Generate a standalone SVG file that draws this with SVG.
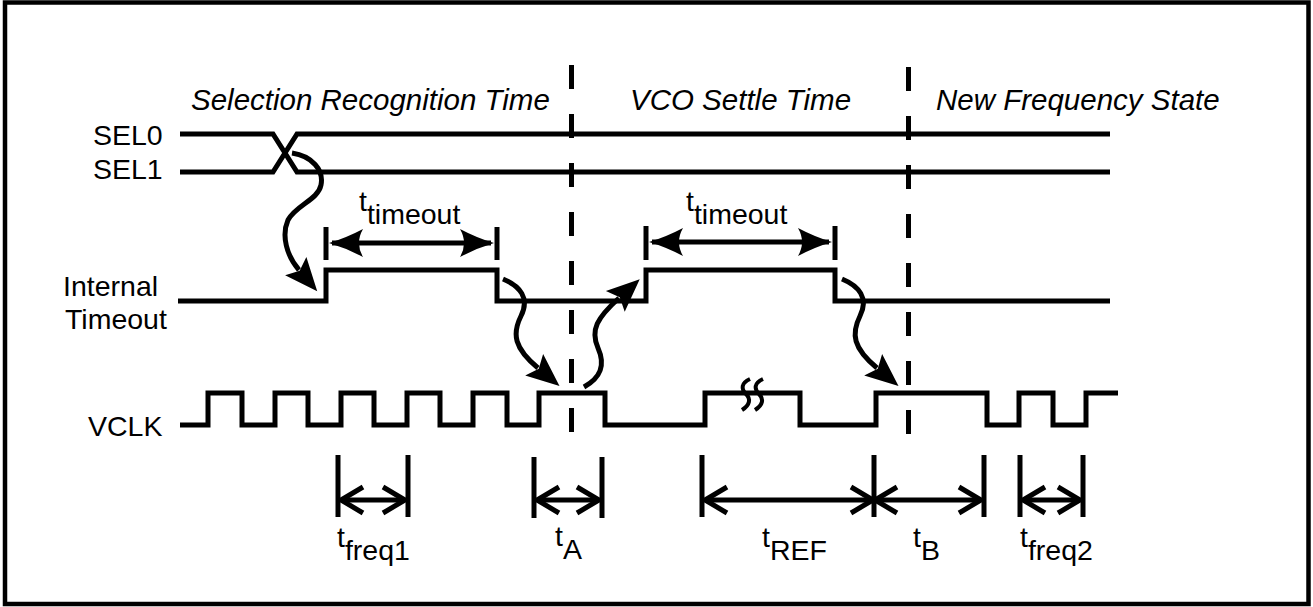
<svg xmlns="http://www.w3.org/2000/svg" width="1313" height="607" viewBox="0 0 1313 607">
<style>
  text { font-family: "Liberation Sans", Arial, sans-serif; font-size: 28.5px; fill: #000; }
  .it { font-style: italic; font-size: 29.5px; }
  .sig { fill: none; stroke: #000; stroke-width: 5; stroke-linejoin: miter; }
  .dash { fill: none; stroke: #000; stroke-width: 5; stroke-dasharray: 24 25; }
  .tick { stroke: #000; stroke-width: 5; }
  .dimf { fill: none; stroke: #000; stroke-width: 5; marker-start: url(#dh); marker-end: url(#dh); }
  .dimo { fill: none; stroke: #000; stroke-width: 5; }
  .curve { fill: none; stroke: #000; stroke-width: 5; marker-end: url(#fh); }
</style>
<defs>
  <marker id="fh" markerUnits="userSpaceOnUse" orient="auto" refX="0" refY="0" markerWidth="60" markerHeight="60" overflow="visible">
    <path d="M28,0 L-5,-14 L1,0 L-5,14 Z" fill="#000"/>
  </marker>
  <marker id="dh" markerUnits="userSpaceOnUse" orient="auto-start-reverse" refX="0" refY="0" markerWidth="60" markerHeight="60" overflow="visible">
    <path d="M3,0 Q-14,-5 -31,-14 Q-23,0 -31,14 Q-14,5 3,0 Z" fill="#000"/>
  </marker>
  <marker id="oh" markerUnits="userSpaceOnUse" orient="auto-start-reverse" refX="0" refY="0" markerWidth="60" markerHeight="60" overflow="visible">
    <path d="M-22,-13 L0,0 L-22,13" fill="none" stroke="#000" stroke-width="5"/>
  </marker>
</defs>

<rect x="5" y="2.5" width="1303.5" height="601.5" fill="#fff" stroke="#000" stroke-width="4.5"/>

<g id="phase-labels">
  <text class="it" x="191" y="110">Selection Recognition Time</text>
  <text class="it" x="630" y="110">VCO Settle Time</text>
  <text class="it" x="936" y="110">New Frequency State</text>
</g>

<g id="phase-boundaries">
  <line class="dash" x1="571.5" y1="65" x2="571.5" y2="433"/>
  <line class="dash" x1="908.5" y1="67" x2="908.5" y2="436"/>
</g>

<g id="sel-signals">
  <text x="93" y="145">SEL0</text>
  <text x="93" y="179">SEL1</text>
  <path class="sig" d="M180,134 H273 L297,172 H1110"/>
  <path class="sig" d="M180,172 H273 L297,134 H1110"/>
</g>

<g id="internal-timeout">
  <text x="63" y="296">Internal</text>
  <text x="65" y="329">Timeout</text>
  <path class="sig" d="M178,301 H326 V270 H497 V301 H646 V270 H835 V301 H1110"/>
</g>

<g id="vclk">
  <text x="88" y="436">VCLK</text>
  <path class="sig" d="M180,425 H208 V393 H242 V425 H275 V393 H308 V425 H341 V393 H374 V425 H407 V393 H440 V425 H473 V393 H507 V425 H539 V393 H605 V425 H705 V393 H800 V425 H876 V393 H987 V425 H1019 V393 H1053 V425 H1086 V393 H1118"/>
  <g id="break" fill="none" stroke="#000" stroke-width="4">
    <path d="M750,379 C741,383 741,389 746,394 C751,399 750,405 742,410"/>
    <path d="M763,379 C754,383 754,389 759,394 C764,399 763,405 755,410"/>
  </g>
</g>

<g id="timeout-dims">
  <g id="ttimeout1">
    <line class="tick" x1="326" y1="227" x2="326" y2="260"/>
    <line class="tick" x1="497" y1="227" x2="497" y2="260"/>
    <line class="dimf" x1="332" y1="243" x2="491" y2="243"/>
    <text x="359" y="211">t<tspan dy="13">timeout</tspan></text>
  </g>
  <g id="ttimeout2">
    <line class="tick" x1="646" y1="226" x2="646" y2="260"/>
    <line class="tick" x1="835" y1="226" x2="835" y2="260"/>
    <line class="dimf" x1="652" y1="242" x2="829" y2="242"/>
    <text x="686" y="211">t<tspan dy="13">timeout</tspan></text>
  </g>
</g>

<g id="clock-dims">
  <g id="tfreq1">
    <line class="tick" x1="338" y1="455" x2="338" y2="517"/>
    <line class="tick" x1="408" y1="455" x2="408" y2="517"/>
    <line class="dimo" x1="341" y1="500" x2="405" y2="500" marker-start="url(#oh)" marker-end="url(#oh)"/>
    <text x="337" y="547">t<tspan dy="13">freq1</tspan></text>
  </g>
  <g id="tA">
    <line class="tick" x1="534" y1="457" x2="534" y2="518"/>
    <line class="tick" x1="602" y1="457" x2="602" y2="518"/>
    <line class="dimo" x1="537" y1="500" x2="599" y2="500" marker-start="url(#oh)" marker-end="url(#oh)"/>
    <text x="555" y="546">t<tspan dy="13">A</tspan></text>
  </g>
  <g id="tREF">
    <line class="tick" x1="702" y1="455" x2="702" y2="517"/>
    <line class="tick" x1="874" y1="455" x2="874" y2="517"/>
    <line class="dimo" x1="705" y1="500" x2="873" y2="500" marker-start="url(#oh)" marker-end="url(#oh)"/>
    <text x="762" y="547">t<tspan dy="13">REF</tspan></text>
  </g>
  <g id="tB">
    <line class="tick" x1="984" y1="455" x2="984" y2="517"/>
    <line class="dimo" x1="875" y1="500" x2="981" y2="500" marker-start="url(#oh)" marker-end="url(#oh)"/>
    <text x="913" y="547">t<tspan dy="13">B</tspan></text>
  </g>
  <g id="tfreq2">
    <line class="tick" x1="1020" y1="455" x2="1020" y2="517"/>
    <line class="tick" x1="1083" y1="455" x2="1083" y2="517"/>
    <line class="dimo" x1="1023" y1="500" x2="1080" y2="500" marker-start="url(#oh)" marker-end="url(#oh)"/>
    <text x="1020" y="547">t<tspan dy="13">freq2</tspan></text>
  </g>
</g>

<g id="connectors">
  <path class="curve" d="M292,153 C312,156 324,170 321,185 C318,200 296,205 288,220 C281,236 287,256 299,270"/>
  <path class="curve" d="M503,279 C520,286 530,298 521,316 C512,334 514,348 538,368"/>
  <path class="curve" d="M584,387 C600,378 606,366 598,348 C590,330 597,318 619,298"/>
  <path class="curve" d="M842,279 C859,286 869,298 860,316 C851,334 853,348 877,368"/>
</g>
</svg>
